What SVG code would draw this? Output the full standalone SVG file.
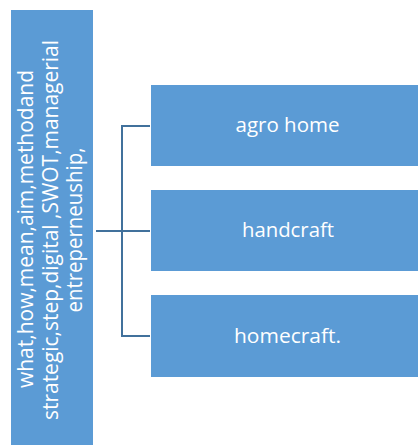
<svg xmlns="http://www.w3.org/2000/svg" width="418" height="446" viewBox="0 0 418 446">
  <style>
    .box { fill: #5B9BD5; }
    .lbl { font-family: "Open Sans", "Liberation Sans", sans-serif; font-size: 20px; fill: #FFFFFF; text-anchor: middle; }
    .side { font-size: 21px; }
    .conn { fill: none; stroke: #41719C; stroke-width: 2; }
  </style>
  <rect width="418" height="446" fill="#FFFFFF"/>
  <g id="connectors">
    <polyline class="conn" points="150,126 122,126 122,336 150,336"/>
    <line class="conn" x1="96" y1="231" x2="150" y2="231"/>
  </g>
  <g id="root">
    <rect class="box" x="11" y="10" width="82" height="435"/>
    <text class="lbl side" transform="translate(33,229) rotate(-90)" textLength="318" lengthAdjust="spacingAndGlyphs">what,how,mean,aim,methodand</text>
    <text class="lbl side" transform="translate(58,230) rotate(-90)" textLength="380" lengthAdjust="spacingAndGlyphs">strategic,step,digital ,SWOT,managerial</text>
    <text class="lbl side" transform="translate(82,230) rotate(-90)" textLength="165" lengthAdjust="spacingAndGlyphs">entreperneuship,</text>
  </g>
  <g id="agro">
    <rect class="box" x="151" y="85" width="267" height="81"/>
    <text class="lbl" x="287.5" y="132" textLength="104" lengthAdjust="spacingAndGlyphs">agro home</text>
  </g>
  <g id="handcraft">
    <rect class="box" x="151" y="190" width="267" height="81"/>
    <text class="lbl" x="288" y="237" textLength="92" lengthAdjust="spacingAndGlyphs">handcraft</text>
  </g>
  <g id="homecraft">
    <rect class="box" x="151" y="295" width="267" height="82"/>
    <text class="lbl" x="287.5" y="343" textLength="107" lengthAdjust="spacingAndGlyphs">homecraft.</text>
  </g>
</svg>
